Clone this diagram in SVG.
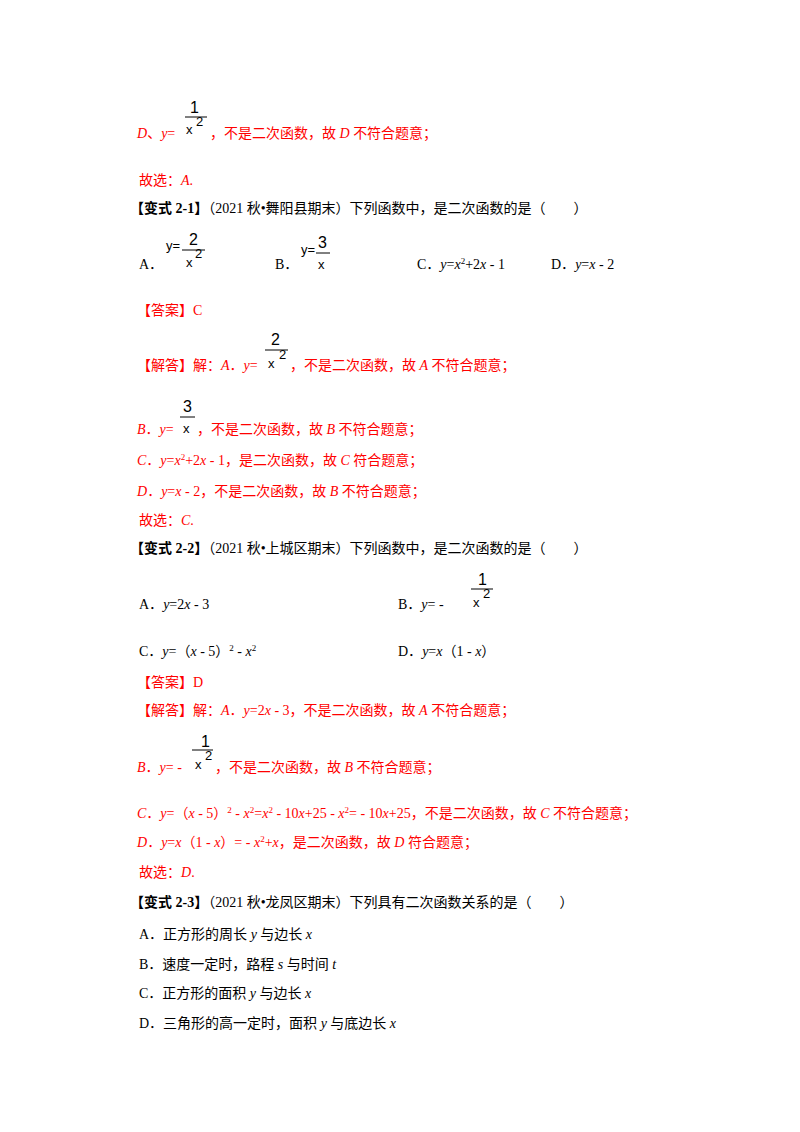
<svg xmlns="http://www.w3.org/2000/svg" width="800" height="1132" viewBox="0 0 800 1132">
<style>
text{font-family:"Liberation Serif","Noto Sans CJK SC",serif;font-size:14px;fill:#000}
.r{fill:#ff0000}
.i{font-style:italic}
.f{font-family:"Liberation Sans",sans-serif;font-size:16px;fill:#000}
.fs{font-family:"Liberation Sans",sans-serif;font-size:13px;fill:#000}
.b{font-weight:bold}
line{stroke:#000;stroke-width:1}
</style>
<rect width="800" height="1132" fill="#fff"/>
<text class="f" x="190" y="113">1</text><line x1="185" y1="117" x2="207" y2="117"/>
<text class="fs" x="186" y="134">x</text><text class="fs" x="196" y="126">2</text>
<text class="r" x="137" y="138"><tspan class="i">D</tspan>、<tspan class="i">y</tspan>=</text>
<text class="r" x="210" y="138">，不是二次函数，故 <tspan class="i">D</tspan> 不符合题意；</text>
<text class="r" x="139" y="185">故选：<tspan class="i">A</tspan>.</text>
<text x="130" y="213"><tspan class="b">【变式 2-1】</tspan>（2021 秋•舞阳县期末）下列函数中，是二次函数的是（　　）</text>
<text x="139" y="269">A．</text>
<text class="fs" x="166" y="250">y=</text><text class="f" x="189" y="245">2</text><line x1="182" y1="250" x2="205" y2="250"/>
<text class="fs" x="186" y="267">x</text><text class="fs" x="195" y="258">2</text>
<text x="275" y="269">B．</text>
<text class="fs" x="301" y="254">y=</text><text class="f" x="318" y="248">3</text><line x1="316" y1="253" x2="330" y2="253"/>
<text class="fs" x="318" y="269">x</text>
<text x="417" y="269">C．<tspan class="i">y</tspan>=<tspan class="i">x</tspan><tspan dy="-5" font-size="9">2</tspan><tspan dy="5">+2</tspan><tspan class="i">x</tspan> - 1</text>
<text x="551" y="269">D．<tspan class="i">y</tspan>=<tspan class="i">x</tspan> - 2</text>
<text class="r" x="137" y="315">【答案】C</text>
<text class="f" x="271" y="345">2</text><line x1="265" y1="350" x2="288" y2="350"/>
<text class="fs" x="268" y="368">x</text><text class="fs" x="279" y="359">2</text>
<text class="r" x="137" y="370">【解答】解：<tspan class="i">A</tspan>．<tspan class="i">y</tspan>=</text>
<text class="r" x="290" y="370">，不是二次函数，故 <tspan class="i">A</tspan> 不符合题意；</text>
<text class="f" x="183" y="412">3</text><line x1="180" y1="417" x2="195" y2="417"/>
<text class="fs" x="183" y="433">x</text>
<text class="r" x="137" y="434"><tspan class="i">B</tspan>．<tspan class="i">y</tspan>=</text>
<text class="r" x="197" y="434">，不是二次函数，故 <tspan class="i">B</tspan> 不符合题意；</text>
<text class="r" x="137" y="465"><tspan class="i">C</tspan>．<tspan class="i">y</tspan>=<tspan class="i">x</tspan><tspan dy="-5" font-size="9">2</tspan><tspan dy="5">+2</tspan><tspan class="i">x</tspan> - 1，是二次函数，故 <tspan class="i">C</tspan> 符合题意；</text>
<text class="r" x="137" y="496"><tspan class="i">D</tspan>．<tspan class="i">y</tspan>=<tspan class="i">x</tspan> - 2，不是二次函数，故 <tspan class="i">B</tspan> 不符合题意；</text>
<text class="r" x="139" y="525">故选：<tspan class="i">C</tspan>.</text>
<text x="130" y="553"><tspan class="b">【变式 2-2】</tspan>（2021 秋•上城区期末）下列函数中，是二次函数的是（　　）</text>
<text x="139" y="609">A．<tspan class="i">y</tspan>=2<tspan class="i">x</tspan> - 3</text>
<text x="398" y="609">B．<tspan class="i">y</tspan>= -</text>
<text class="f" x="478" y="585">1</text><line x1="471" y1="589" x2="493" y2="589"/>
<text class="fs" x="473" y="607">x</text><text class="fs" x="483" y="598">2</text>
<text x="139" y="656">C．<tspan class="i">y</tspan>=（<tspan class="i">x</tspan> - 5）<tspan dy="-5" font-size="9">2</tspan><tspan dy="5"> - </tspan><tspan class="i">x</tspan><tspan dy="-5" font-size="9">2</tspan></text>
<text x="398" y="656">D．<tspan class="i">y</tspan>=<tspan class="i">x</tspan>（1 - <tspan class="i">x</tspan>）</text>
<text class="r" x="137" y="687">【答案】D</text>
<text class="r" x="137" y="715">【解答】解：<tspan class="i">A</tspan>．<tspan class="i">y</tspan>=2<tspan class="i">x</tspan> - 3，不是二次函数，故 <tspan class="i">A</tspan> 不符合题意；</text>
<text class="f" x="201" y="747">1</text><line x1="192" y1="750" x2="213" y2="750"/>
<text class="fs" x="195" y="769">x</text><text class="fs" x="205" y="760">2</text>
<text class="r" x="137" y="772"><tspan class="i">B</tspan>．<tspan class="i">y</tspan>= -</text>
<text class="r" x="215" y="772">，不是二次函数，故 <tspan class="i">B</tspan> 不符合题意；</text>
<text class="r" x="137" y="818"><tspan class="i">C</tspan>．<tspan class="i">y</tspan>=（<tspan class="i">x</tspan> - 5）<tspan dy="-5" font-size="9">2</tspan><tspan dy="5"> - </tspan><tspan class="i">x</tspan><tspan dy="-5" font-size="9">2</tspan><tspan dy="5">=</tspan><tspan class="i">x</tspan><tspan dy="-5" font-size="9">2</tspan><tspan dy="5"> - 10</tspan><tspan class="i">x</tspan>+25 - <tspan class="i">x</tspan><tspan dy="-5" font-size="9">2</tspan><tspan dy="5">= - 10</tspan><tspan class="i">x</tspan>+25，不是二次函数，故 <tspan class="i">C</tspan> 不符合题意；</text>
<text class="r" x="137" y="847"><tspan class="i">D</tspan>．<tspan class="i">y</tspan>=<tspan class="i">x</tspan>（1 - <tspan class="i">x</tspan>）= - <tspan class="i">x</tspan><tspan dy="-5" font-size="9">2</tspan><tspan dy="5">+</tspan><tspan class="i">x</tspan>，是二次函数，故 <tspan class="i">D</tspan> 符合题意；</text>
<text class="r" x="139" y="877">故选：<tspan class="i">D</tspan>.</text>
<text x="130" y="907"><tspan class="b">【变式 2-3】</tspan>（2021 秋•龙凤区期末）下列具有二次函数关系的是（　　）</text>
<text x="139" y="939">A．正方形的周长 <tspan class="i">y</tspan> 与边长 <tspan class="i">x</tspan></text>
<text x="139" y="969">B．速度一定时，路程 <tspan class="i">s</tspan> 与时间 <tspan class="i">t</tspan></text>
<text x="139" y="998">C．正方形的面积 <tspan class="i">y</tspan> 与边长 <tspan class="i">x</tspan></text>
<text x="139" y="1028">D．三角形的高一定时，面积 <tspan class="i">y</tspan> 与底边长 <tspan class="i">x</tspan></text>
</svg>
